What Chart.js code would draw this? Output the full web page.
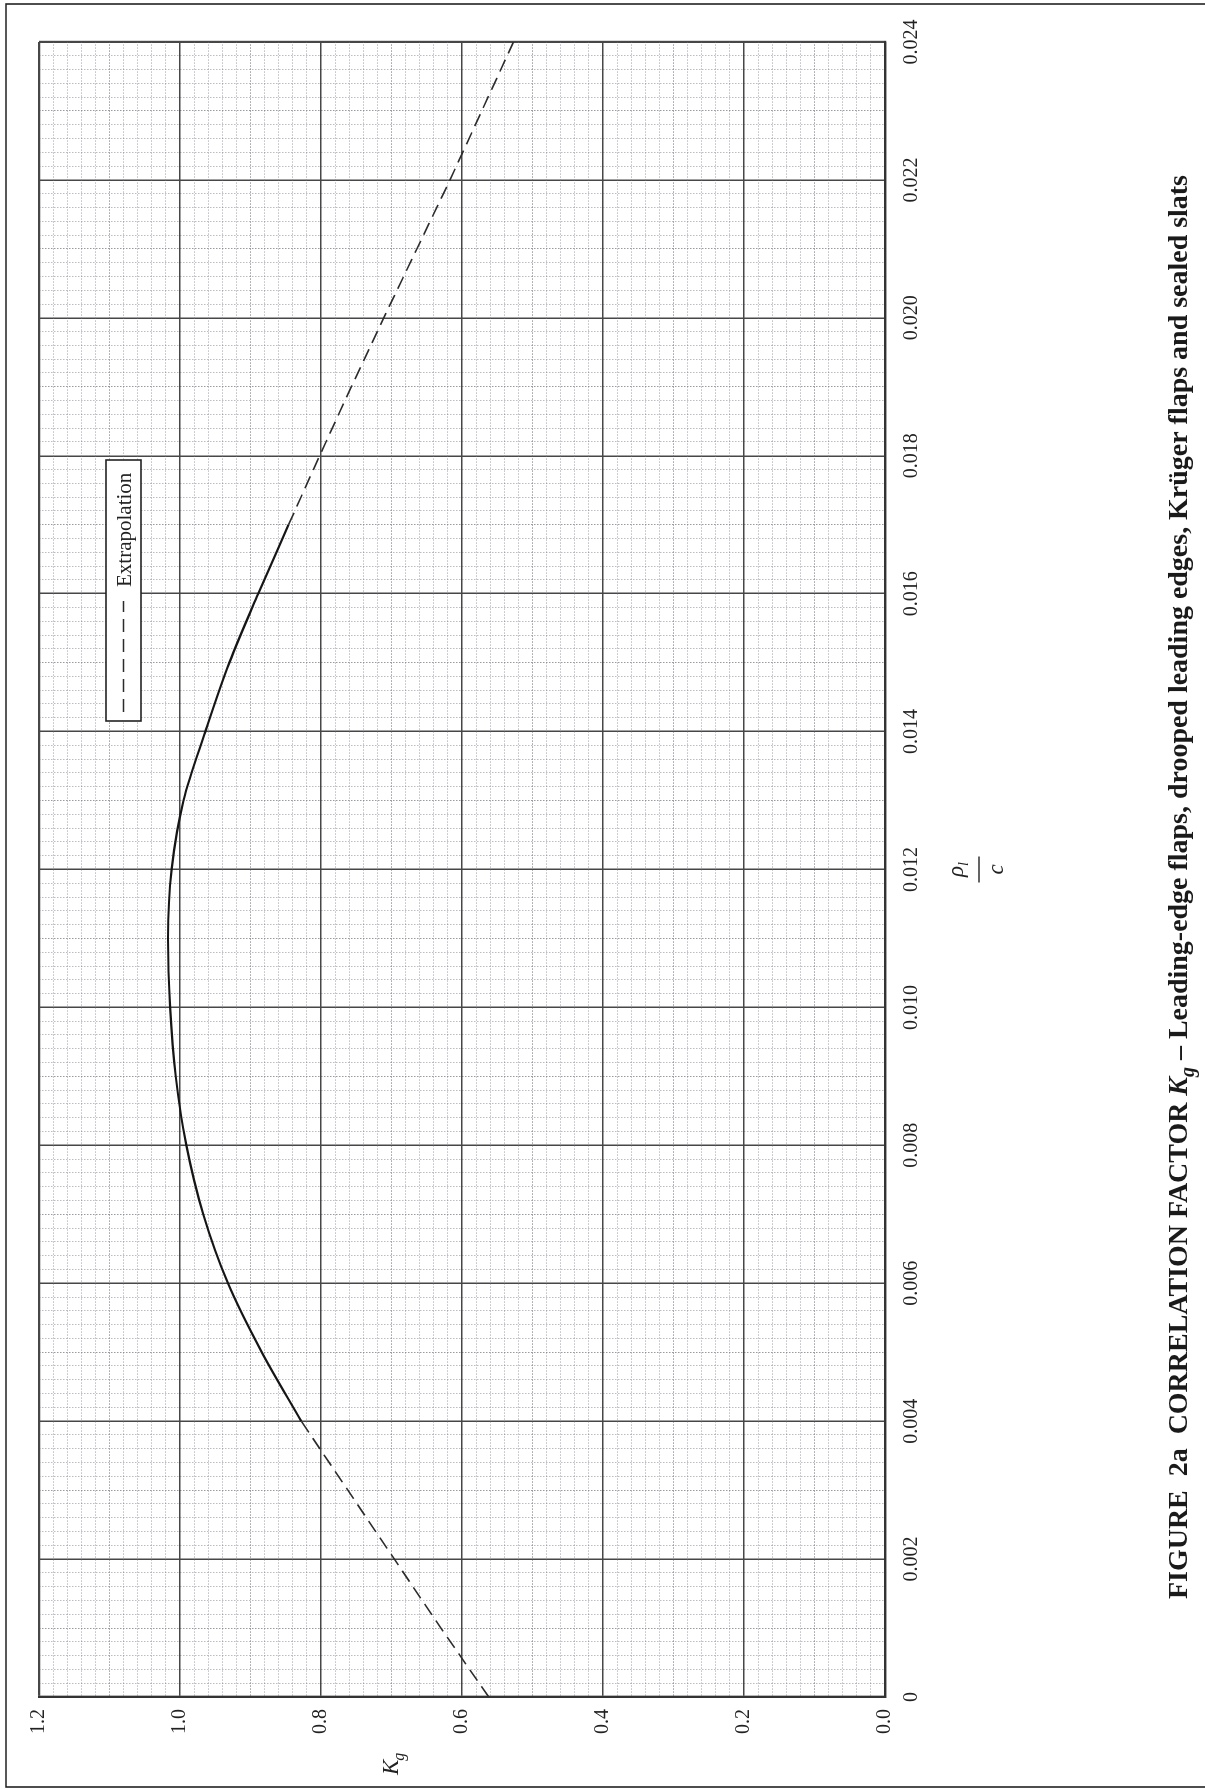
<!DOCTYPE html>
<html><head><meta charset="utf-8">
<script src="https://cdn.jsdelivr.net/npm/chart.js@4.4.1/dist/chart.umd.min.js"></script>
<style>
html,body{margin:0;padding:0;background:#fff;overflow:hidden;width:1205px;height:1789px;}
#wrap{position:absolute;left:0;top:0;width:1789px;height:1205px;transform-origin:0 0;transform:translate(0,1789px) rotate(-90deg);}
canvas{display:block;}
</style></head><body>
<div id="wrap"><canvas id="c" width="1789" height="1205"></canvas></div>
<script>
// ---- data ----
const xTickLabels = ['0','0.002','0.004','0.006','0.008','0.010','0.012','0.014','0.016','0.018','0.020','0.022','0.024'];
const yTickLabels = ['0.0','0.2','0.4','0.6','0.8','1.0','1.2'];
const legendLabel = 'Extrapolation';
const captionPre = 'FIGURE  2a  CORRELATION FACTOR ';
const captionPost = ' \u2013 Leading-edge flaps, drooped leading edges, Kr\u00fcger flaps and sealed slats';

const lowExtrapX = [0, 0.001, 0.002, 0.003, 0.004];
const lowExtrapY = [0.562, 0.630, 0.696, 0.762, 0.828];
const curveX = [0.004, 0.005, 0.006, 0.007, 0.008, 0.009, 0.010, 0.011, 0.012, 0.013, 0.014, 0.015, 0.016, 0.017];
const curveY = [0.828, 0.884, 0.932, 0.967, 0.991, 1.006, 1.014, 1.017, 1.012, 0.995, 0.964, 0.930, 0.889, 0.846];
const highExtrapX = [0.017, 0.018, 0.019, 0.020, 0.021, 0.022, 0.023, 0.024];
const highExtrapY = [0.846, 0.802, 0.757, 0.711, 0.664, 0.617, 0.572, 0.527];

// ---- styling helpers ----
const SERIF = "'Liberation Serif','Times New Roman',serif";
const pts = (xs, ys) => xs.map((x, i) => ({x: x, y: ys[i]}));
const isMult = (v, s) => Math.abs(v / s - Math.round(v / s)) < 1e-6;
function gridColor(ctx, major, mid) {
  if (!ctx.tick) return '#333';
  const v = ctx.tick.value;
  if (isMult(v, major)) return '#474747';
  if (isMult(v, mid)) return 'rgba(85,88,100,0.6)';
  return 'rgba(115,118,132,0.48)';
}
function gridWidth(ctx, major, lo, hi) {
  if (!ctx.tick) return 1;
  const v = ctx.tick.value;
  if (Math.abs(v - lo) < 1e-9 || Math.abs(v - hi) < 1e-9) return 2.2;
  if (isMult(v, major)) return 1.5;
  return 1;
}
function gridDash(ctx, major) {
  if (!ctx.tick) return [];
  return isMult(ctx.tick.value, major) ? [] : [1.5, 1.5];
}

const decor = {
  id: 'decor',
  beforeDraw(chart) {
    const c = chart.ctx;
    c.save(); c.fillStyle = '#fff'; c.fillRect(0, 0, chart.width, chart.height); c.restore();
  },
  afterDraw(chart) {
    const c = chart.ctx;
    const ca = chart.chartArea;
    c.save();
    // page frame
    c.strokeStyle = '#222'; c.lineWidth = 1.6;
    c.beginPath();
    c.moveTo(2, 1205); c.lineTo(2, 6); c.lineTo(1785, 6); c.lineTo(1785, 1205);
    c.stroke();

    // legend box
    const lx = ca.left + 976, ly = ca.top + 67, lw = 261, lh = 35;
    c.fillStyle = '#fff'; c.fillRect(lx, ly, lw, lh);
    c.strokeStyle = '#222'; c.lineWidth = 1.6; c.strokeRect(lx, ly, lw, lh);
    c.strokeStyle = '#2b2b2b'; c.lineWidth = 1.6; c.setLineDash([13, 7]);
    c.beginPath(); c.moveTo(lx + 9, ly + lh / 2); c.lineTo(lx + 120, ly + lh / 2); c.stroke();
    c.setLineDash([]);
    c.fillStyle = '#222'; c.font = '21px ' + SERIF; c.textBaseline = 'alphabetic'; c.textAlign = 'left';
    c.fillText(legendLabel, lx + 134, ly + lh / 2 + 7);

    // Kg axis title
    c.font = 'italic 23px ' + SERIF;
    c.fillText('K', 14, 398);
    const kw = c.measureText('K').width;
    c.font = 'italic 16px ' + SERIF;
    c.fillText('g', 14 + kw - 1, 404);

    // rho_l / c axis title
    const cx = (ca.left + ca.right) / 2;
    c.font = 'italic 23px ' + SERIF;
    const rw = c.measureText('\u03c1').width;
    c.font = 'italic 14px ' + SERIF;
    const lw2 = c.measureText('l').width;
    const nw = rw + lw2;
    c.font = 'italic 23px ' + SERIF;
    c.fillText('\u03c1', cx - nw / 2, 963);
    c.font = 'italic 14px ' + SERIF;
    c.fillText('l', cx - nw / 2 + rw, 968);
    c.strokeStyle = '#222'; c.lineWidth = 1.4;
    c.beginPath(); c.moveTo(cx - 13, 979); c.lineTo(cx + 13, 979); c.stroke();
    c.font = 'italic 23px ' + SERIF; c.textAlign = 'center';
    c.fillText('c', cx, 1003);
    c.textAlign = 'left';

    // caption
    const parts = [
      {t: captionPre, f: 'bold 28px ' + SERIF, dy: 0},
      {t: 'K', f: 'bold italic 28px ' + SERIF, dy: 0},
      {t: 'g', f: 'bold italic 20px ' + SERIF, dy: 7},
      {t: captionPost, f: 'bold 28px ' + SERIF, dy: 0}
    ];
    let total = 0;
    parts.forEach(p => { c.font = p.f; p.w = c.measureText(p.t).width; total += p.w; });
    const target = 1424;
    c.translate(190, 1187);
    c.scale(target / total, 1);
    let px = 0;
    c.fillStyle = '#1a1a1a';
    parts.forEach(p => { c.font = p.f; c.fillText(p.t, px, p.dy); px += p.w; });
    c.restore();
  }
};

new Chart(document.getElementById('c'), {
  type: 'line',
  data: {
    datasets: [
      {label: legendLabel, data: pts(lowExtrapX, lowExtrapY), borderColor: '#2b2b2b', borderWidth: 1.6,
       borderDash: [13, 7], pointRadius: 0, tension: 0, fill: false},
      {label: 'Kg', data: pts(curveX, curveY), borderColor: '#151515', borderWidth: 2.2,
       pointRadius: 0, cubicInterpolationMode: 'monotone', fill: false},
      {label: legendLabel, data: pts(highExtrapX, highExtrapY), borderColor: '#2b2b2b', borderWidth: 1.6,
       borderDash: [13, 7], pointRadius: 0, tension: 0, fill: false}
    ]
  },
  options: {
    responsive: false,
    devicePixelRatio: 1,
    animation: false,
    layout: {padding: {left: 32, right: 42, top: 39, bottom: 270}},
    plugins: {legend: {display: false}, tooltip: {enabled: false}, title: {display: false}},
    scales: {
      x: {
        type: 'linear', min: 0, max: 0.024,
        afterFit: s => { s.height = 50; },
        ticks: {
          stepSize: 0.0002, autoSkip: false, maxRotation: 0, minRotation: 0, padding: 15,
          color: '#222', font: {family: SERIF, size: 20},
          callback: v => isMult(v, 0.002) ? xTickLabels[Math.round(v / 0.002)] : ''
        },
        grid: {drawTicks: false, color: ctx => gridColor(ctx, 0.002, 0.001),
               lineWidth: ctx => gridWidth(ctx, 0.002, 0, 0.024)},
        border: {display: true, color: '#333', width: 2.2, dash: ctx => gridDash(ctx, 0.002)}
      },
      y: {
        type: 'linear', min: 0, max: 1.2,
        afterFit: s => { s.width = 60; },
        ticks: {
          stepSize: 0.02, autoSkip: false, padding: 12,
          color: '#222', font: {family: SERIF, size: 20},
          callback: v => isMult(v, 0.2) ? yTickLabels[Math.round(v / 0.2)] : ''
        },
        grid: {drawTicks: false, color: ctx => gridColor(ctx, 0.2, 0.1),
               lineWidth: ctx => gridWidth(ctx, 0.2, 0, 1.2)},
        border: {display: true, color: '#333', width: 2.2, dash: ctx => gridDash(ctx, 0.2)}
      }
    }
  },
  plugins: [decor]
});
</script>
</body></html>
